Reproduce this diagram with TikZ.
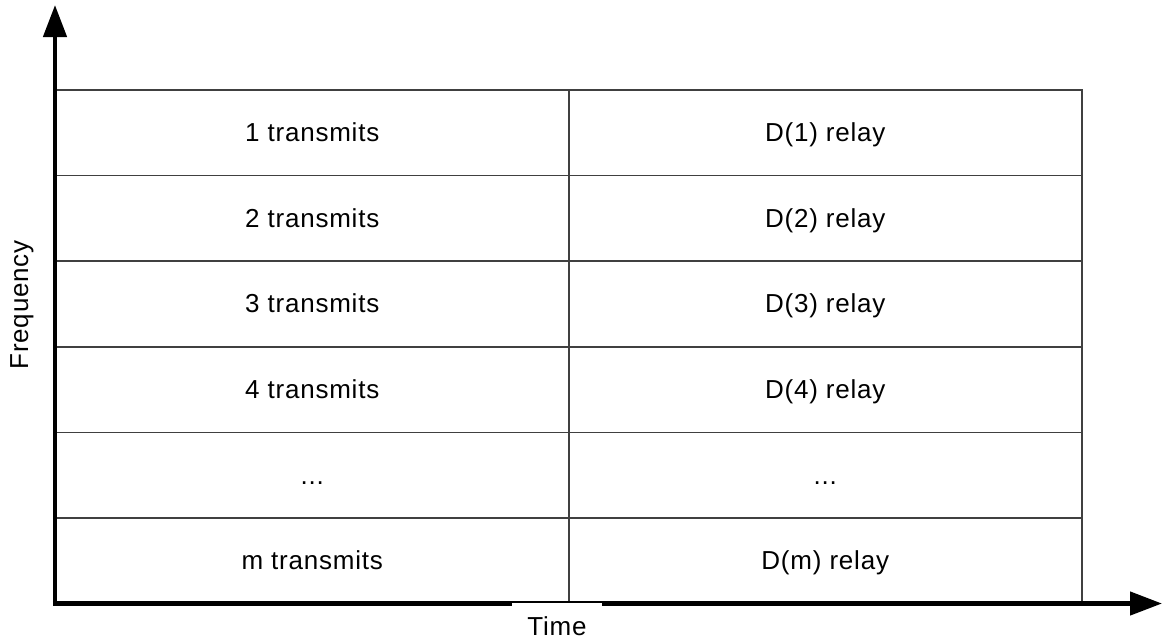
\documentclass[tikz,border=0pt]{standalone}
\usepackage{fontspec}
\setmainfont{Liberation Sans}[LetterSpace=3]
\usetikzlibrary{arrows.meta}
\newcommand\ellip{...}
\begin{document}
\begin{tikzpicture}[x=1pt,y=-1pt,
  cell/.style={draw=black!75, line width=1.5pt, minimum width=513pt,
    minimum height=85.7pt, inner sep=0pt, anchor=north west,
    text height=18.6pt, text depth=0.6pt,
    font=\fontsize{26}{30}\selectfont},
  axis/.style={line width=4.5pt, -{Triangle[length=32pt,width=23pt]}},
  axislabel/.style={font=\fontsize{26}{30}\selectfont}]
\useasboundingbox (0,0) rectangle (1163,641);
% grid of time/frequency slots
\foreach \a/\b [count=\i from 0] in {1 transmits/D(1) relay, 2 transmits/D(2) relay,
    3 transmits/D(3) relay, 4 transmits/D(4) relay, \ellip/\ellip, m transmits/D(m) relay}{
  \node[cell] (l\i) at (55, 89+85.67*\i) {\a};
  \node[cell] (r\i) at (568, 89+85.67*\i) {\b};
}
% axes
\coordinate (o) at (55,603.5);
\coordinate (ytop) at (55,5);
\coordinate (xend) at (1162,603.5);
\draw[axis] (o) -- (ytop);
\draw[axis, shorten <=-2.25pt] (o) -- (xend);
\node[axislabel, fill=white, inner xsep=15pt, inner ysep=13pt,
  text height=18.6pt, text depth=0.6pt] (time) at (557,626) {Time};
\node[axislabel, rotate=90] (freq) at (22,305) {Frequency};
\end{tikzpicture}
\end{document}
